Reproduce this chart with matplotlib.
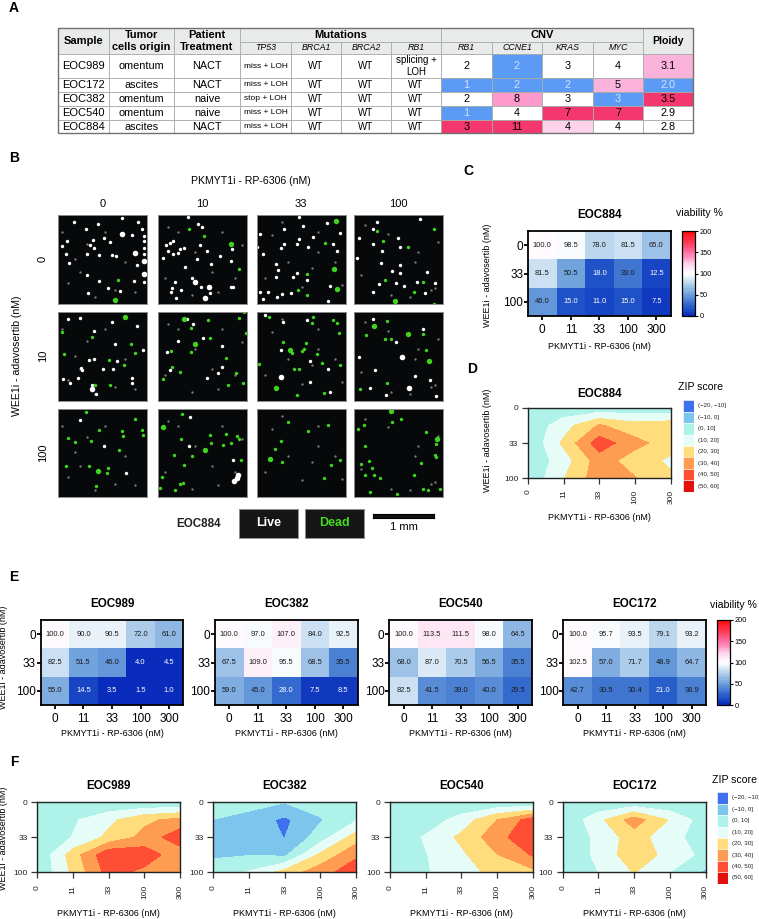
import matplotlib
matplotlib.use("Agg")
import matplotlib.pyplot as plt
import numpy as np
from matplotlib.colors import LinearSegmentedColormap, Normalize
from matplotlib.patches import Rectangle

W, H = 759, 919
plt.rcParams["font.family"] = ["Liberation Sans", "DejaVu Sans"]

# panel A table
SAMPLES = ["EOC989", "EOC172", "EOC382", "EOC540", "EOC884"]
ORIGIN = ["omentum", "ascites", "omentum", "omentum", "ascites"]
TREATMENT = ["NACT", "NACT", "naive", "naive", "NACT"]
TP53 = ["miss + LOH", "miss + LOH", "stop + LOH", "miss + LOH", "miss + LOH"]
BRCA1 = ["WT"] * 5
BRCA2 = ["WT"] * 5
RB1_MUT = ["splicing +\nLOH", "WT", "WT", "WT", "WT"]
CNV_RB1 = ["2", "1", "2", "1", "3"]
CNV_CCNE1 = ["2", "2", "8", "4", "11"]
CNV_KRAS = ["3", "2", "3", "7", "4"]
CNV_MYC = ["4", "5", "3", "7", "4"]
PLOIDY = ["3.1", "2.0", "3.5", "2.9", "2.8"]
GENES_MUT = ["TP53", "BRCA1", "BRCA2", "RB1"]
GENES_CNV = ["RB1", "CCNE1", "KRAS", "MYC"]

BLUE = "#5b9bf6"
PINK = "#fbb3dc"
MID = "#fd9acb"
PALE = "#fdd2ea"
HOT = "#f5376f"
NONE = "#ffffff"
CNV_RB1_COL = [NONE, BLUE, NONE, BLUE, HOT]
CNV_CCNE1_COL = [BLUE, BLUE, MID, NONE, HOT]
CNV_KRAS_COL = [NONE, BLUE, NONE, HOT, PALE]
CNV_MYC_COL = [NONE, PINK, BLUE, HOT, NONE]
PLOIDY_COL = [PINK, BLUE, HOT, NONE, NONE]

TABLE_X = [58, 109, 174, 240, 291, 341, 391, 441, 492, 542, 593, 643, 693]
TABLE_Y = [28, 42, 54, 78, 92, 106, 120, 133]

# panel B spots, read in pixels of a 3x crop of each row of images
IMG_LEFT = [9, 309, 605, 898]
IMG_COLS = ["0", "10", "33", "100"]
IMG_ROWS = ["0", "10", "100"]
WHITE_ROW0 = [(92, 52), (250, 30), (200, 18), (130, 35), (56, 30), (260, 50), (232, 70), (268, 72), (147, 78), (165, 90),
              (37, 88), (20, 102), (105, 100), (115, 85), (117, 108), (268, 88), (268, 107), (268, 125), (34, 127),
              (97, 125), (172, 129), (184, 131), (133, 130), (42, 152), (246, 160), (95, 190), (132, 208), (236, 208),
              (100, 245), (196, 238), (158, 228), (268, 212),
              (400, 14), (428, 35), (440, 45), (333, 98), (345, 92), (355, 87), (340, 118), (355, 125), (368, 124),
              (375, 112), (388, 108), (435, 100), (457, 118), (495, 133), (427, 142), (467, 156), (530, 110), (528, 147),
              (390, 167), (412, 198), (360, 212), (352, 228), (348, 240), (378, 235), (438, 225), (465, 243), (362, 258),
              (528, 226), (535, 225), (325, 138),
              (733, 14), (687, 50), (615, 67), (607, 105), (687, 96), (677, 108), (727, 97), (733, 80), (745, 42),
              (815, 32), (856, 63), (775, 75), (760, 105), (835, 97), (845, 118), (662, 155), (668, 175), (625, 125),
              (663, 197), (715, 197), (726, 183), (756, 205), (825, 222), (615, 240), (640, 240), (625, 262), (665, 255),
              (682, 248), (708, 245), (820, 268),
              (1097, 22), (967, 30), (955, 50), (913, 78), (955, 97), (1030, 78), (1037, 105), (983, 118), (907, 138),
              (978, 153), (1037, 160), (1013, 178), (1037, 184), (1118, 180), (1025, 215), (1048, 222), (1088, 210),
              (972, 218), (1140, 215), (955, 240), (1110, 245)]
WHITE_BIG_ROW0 = [(200, 67), (240, 123), (266, 147), (266, 187), (420, 210), (461, 226), (450, 260)]
GREEN_ROW0 = [(190, 205), (403, 52), (447, 72), (553, 173), (810, 93), (757, 187), (728, 236), (757, 250), (1137, 52),
              (967, 58), (985, 88), (1059, 104), (991, 205), (1105, 212), (1077, 240), (1138, 277)]
GREEN_BIG_ROW0 = [(180, 265), (527, 97), (844, 28), (838, 171), (845, 232), (1020, 267)]
WHITE_ROW1 = [(38, 30), (75, 28), (172, 40), (245, 52), (117, 66), (180, 105), (265, 123), (118, 150), (103, 154), (145, 180),
              (175, 182), (185, 158), (78, 178), (82, 185), (25, 212), (46, 222), (70, 208), (232, 208), (232, 222),
              (110, 230), (122, 255),
              (445, 88), (370, 95), (335, 128), (500, 112), (500, 175), (490, 193), (345, 183), (455, 208), (415, 45),
              (395, 30),
              (630, 18), (684, 40), (755, 33), (677, 122), (765, 155), (765, 220), (825, 250), (820, 180),
              (955, 30), (913, 145), (1025, 98), (960, 184), (1125, 215), (1082, 203), (945, 238), (1145, 262), (995, 258),
              (1105, 60)]
WHITE_BIG_ROW1 = [(110, 240), (677, 205), (1042, 145), (1063, 237)]
GREEN_ROW1 = [(20, 70), (110, 83), (228, 106), (240, 132), (28, 135), (163, 153), (207, 170), (120, 230), (166, 228),
              (409, 58), (460, 34), (553, 27), (567, 10), (573, 72), (466, 86), (408, 130), (347, 127), (512, 147),
              (352, 174), (376, 189), (543, 193), (324, 211), (518, 230), (565, 222),
              (643, 25), (775, 24), (771, 42), (835, 33), (846, 43), (851, 73), (683, 100), (753, 101), (711, 133),
              (740, 127), (746, 120), (786, 135), (800, 164), (856, 168), (717, 180), (733, 180), (612, 165), (725, 259),
              (806, 254),
              (997, 36), (935, 78), (991, 90), (1010, 90), (1105, 75), (1115, 122), (915, 242), (997, 222)]
GREEN_BIG_ROW1 = [(210, 25), (386, 30), (421, 106), (706, 123), (664, 239), (958, 50), (1059, 76), (1124, 157)]
WHITE_ROW2 = [(75, 44), (146, 122), (212, 202), (406, 35), (402, 122), (533, 163)]
WHITE_BIG_ROW2 = [(550, 210), (536, 226), (545, 218)]
GREEN_ROW2 = [(93, 18), (241, 40), (132, 74), (200, 75), (262, 72), (204, 90), (264, 87), (38, 97), (61, 110), (109, 107),
              (193, 132), (33, 180), (101, 180), (160, 186), (157, 203), (124, 241),
              (381, 24), (378, 101), (465, 88), (514, 85), (545, 91), (551, 101), (467, 112), (503, 118), (528, 113),
              (356, 147), (410, 152), (386, 178), (320, 216), (316, 249), (361, 253), (374, 237), (383, 232), (557, 163),
              (699, 50), (760, 75), (820, 58), (678, 107), (661, 131), (681, 170), (829, 177), (854, 162), (806, 219),
              (1012, 48), (1039, 40), (910, 71), (927, 58), (1113, 80), (1143, 115), (931, 122), (1140, 147), (1145, 155),
              (918, 176), (944, 167), (952, 189), (1100, 172), (931, 209), (958, 209), (976, 219), (1077, 208), (946, 261),
              (1027, 267), (1105, 251), (1120, 253), (1155, 250)]
GREEN_BIG_ROW2 = [(128, 196), (323, 65), (450, 132), (646, 160), (1010, 15), (1148, 101)]
DUST = [(20, 60), (60, 140), (150, 60), (75, 180), (210, 150), (120, 255), (40, 215), (240, 240), (180, 235), (95, 95),
        (340, 45), (420, 120), (500, 60), (540, 200), (330, 200), (410, 250), (490, 240), (560, 100), (370, 60), (470, 180),
        (650, 70), (700, 150), (790, 60), (840, 150), (630, 200), (740, 225), (790, 120), (860, 220), (680, 30), (770, 170),
        (930, 40), (1000, 65), (1090, 120), (1140, 230), (920, 190), (1010, 250), (1080, 150), (1150, 90), (1130, 235),
        (1065, 255)]

# viability % rows: WEE1i 0, 33, 100; columns: PKMYT1i 0, 11, 33, 100, 300
VIA_884 = [[100.0, 98.5, 78.0, 81.5, 65.0], [81.5, 50.5, 18.0, 33.0, 12.5], [46.0, 15.0, 11.0, 15.0, 7.5]]
VIA_989 = [[100.0, 90.0, 90.5, 72.0, 61.0], [82.5, 51.5, 46.0, 4.0, 4.5], [55.0, 14.5, 3.5, 1.5, 1.0]]
VIA_382 = [[100.0, 97.0, 107.0, 84.0, 92.5], [67.5, 109.0, 95.5, 68.5, 35.5], [59.0, 45.0, 28.0, 7.5, 8.5]]
VIA_540 = [[100.0, 113.5, 111.5, 98.0, 64.5], [68.0, 87.0, 70.5, 56.5, 35.5], [82.5, 41.5, 39.0, 40.0, 29.5]]
VIA_172 = [[100.0, 95.7, 93.5, 79.1, 93.2], [102.5, 57.0, 71.7, 48.9, 64.7], [42.7, 30.5, 30.4, 21.0, 38.9]]
DOSE_X = ["0", "11", "33", "100", "300"]
DOSE_Y = ["0", "33", "100"]

# ZIP scores read back from the contour outlines, five rows by five columns
ZIP_884 = [[4, 3, 2.5, 2.5, 2.4],
           [2.5, 15.5, 31, 24, 26],
           [1, 22, 45.5, 33, 25],
           [2, 15, 35, 25, 18],
           [2, 19.5, 36, 30.5, 22]]
ZIP_989 = [[1, 1, 1, 0.5, 0.5],
           [1, 8.5, 17.5, 28, 33],
           [1, 10.5, 22.5, 33, 47],
           [1, 25, 48, 46, 33],
           [1, 22.2, 44, 37.2, 32]]
ZIP_382 = [[6, 5, 0.3, 5, 6],
           [-0.2, -5, -12, -1, 9],
           [-3, -6, -10.2, 5, 25],
           [-0.3, -0.5, -2, 22, 38],
           [1, 11, 24, 36, 46]]
ZIP_540 = [[2, 2, 1.5, 1, 0.2],
           [2, 4, 14, 30, 45],
           [1, 11.2, 22.3, 36, 49],
           [1, 9.5, 18, 29.5, 41],
           [1, 9, 16, 23, 27]]
ZIP_172 = [[1, 1, 2, 1, 1],
           [0.5, 17, 35, 19, 4.4],
           [0.5, 12.7, 25, 13.3, 5],
           [0.5, 12.7, 26.4, 16.4, 7],
           [0.5, 10, 20.5, 10, -2]]
ZIP_LEVELS = [-20, -10, 0, 10, 20, 30, 40, 50, 60]
ZIP_COLORS = ["#3f70ee", "#7cc6ee", "#aef2ea", "#e6fcf7", "#ffdd7c", "#fe9d52", "#fe4f34", "#e2100a"]
ZIP_LABELS = ["(\u221220, \u221210]", "(\u221210, 0]", "(0, 10]", "(10, 20]", "(20, 30]", "(30, 40]", "(40, 50]", "(50, 60]"]

XLABEL = "PKMYT1i - RP-6306 (nM)"
YLABEL = "WEE1i - adavosertib (nM)"

VIA_CMAP = LinearSegmentedColormap.from_list(
    "via",
    [(0.0, "#0a2cbc"), (0.09, "#2258c8"), (0.25, "#6da0dc"), (0.40, "#c5dcf0"), (0.50, "#ffffff"),
     (0.62, "#fdd0ea"), (0.75, "#ff6fa8"), (1.0, "#ff0a0a")], N=40)
VIA_NORM = Normalize(0, 200)


def px_ax(fig, x0, y0, x1, y1):
    return fig.add_axes([x0 / W, 1 - y1 / H, (x1 - x0) / W, (y1 - y0) / H])


def put(fig, x, y, s, size, **kw):
    kw.setdefault("ha", "center")
    kw.setdefault("va", "center")
    fig.text(x / W, 1 - y / H, s, fontsize=size, **kw)


def draw_table(fig):
    ax = fig.add_axes([0, 0, 1, 1])
    ax.set_xlim(0, W)
    ax.set_ylim(H, 0)
    ax.axis("off")
    xs, ys = TABLE_X, TABLE_Y

    def cell(c0, c1, r0, r1, color="white"):
        ax.add_patch(Rectangle((xs[c0], ys[r0]), xs[c1] - xs[c0], ys[r1] - ys[r0],
                               facecolor=color, edgecolor="#a8aba9", linewidth=0.6))

    def label(c0, c1, r0, r1, s, size, **kw):
        ax.text((xs[c0] + xs[c1]) / 2, (ys[r0] + ys[r1]) / 2, s, ha="center", va="center", fontsize=size, **kw)

    grey = "#e9ebea"
    cell(0, 1, 0, 2, grey)
    label(0, 1, 0, 2, "Sample", 8, fontweight="bold")
    cell(1, 2, 0, 2, grey)
    label(1, 2, 0, 2, "Tumor\ncells origin", 7.9, fontweight="bold", linespacing=1.35)
    cell(2, 3, 0, 2, grey)
    label(2, 3, 0, 2, "Patient\nTreatment", 8, fontweight="bold", linespacing=1.35)
    cell(3, 7, 0, 1, grey)
    label(3, 7, 0, 1, "Mutations", 8, fontweight="bold")
    cell(7, 11, 0, 1, grey)
    label(7, 11, 0, 1, "CNV", 8, fontweight="bold")
    cell(11, 12, 0, 2, grey)
    label(11, 12, 0, 2, "Ploidy", 7.6, fontweight="bold")
    for i, g in enumerate(GENES_MUT + GENES_CNV):
        cell(3 + i, 4 + i, 1, 2, grey)
        label(3 + i, 4 + i, 1, 2, g, 6.3, style="italic")

    text_cols = [SAMPLES, ORIGIN, TREATMENT, TP53, BRCA1, BRCA2, RB1_MUT]
    sizes = [8, 7.8, 7.8, 6, 7, 7, 7]
    for r in range(5):
        for c, col in enumerate(text_cols):
            cell(c, c + 1, r + 2, r + 3)
            label(c, c + 1, r + 2, r + 3, col[r], sizes[c], linespacing=1.25)
    cnv = [CNV_RB1, CNV_CCNE1, CNV_KRAS, CNV_MYC, PLOIDY]
    cols = [CNV_RB1_COL, CNV_CCNE1_COL, CNV_KRAS_COL, CNV_MYC_COL, PLOIDY_COL]
    for c, (vals, fills) in enumerate(zip(cnv, cols)):
        for r in range(5):
            cell(c + 7, c + 8, r + 2, r + 3, fills[r])
            tc = "#cfe2ff" if fills[r] == BLUE else "black"
            label(c + 7, c + 8, r + 2, r + 3, vals[r], 7.8, color=tc)
    ax.add_patch(Rectangle((xs[0], ys[0]), xs[-1] - xs[0], ys[-1] - ys[0], fill=False, edgecolor="#6f7271", linewidth=1.0))
    return ax


def draw_images(fig):
    tops = [215, 312, 408.7]
    lefts = [58, 158, 256.7, 354]
    whites = [WHITE_ROW0, WHITE_ROW1, WHITE_ROW2]
    white_big = [WHITE_BIG_ROW0, WHITE_BIG_ROW1, WHITE_BIG_ROW2]
    greens = [GREEN_ROW0, GREEN_ROW1, GREEN_ROW2]
    green_big = [GREEN_BIG_ROW0, GREEN_BIG_ROW1, GREEN_BIG_ROW2]
    dx, dy = np.array(DUST).T
    for r, top in enumerate(tops):
        for c, left in enumerate(lefts):
            ax = px_ax(fig, left, top, left + 89, top + 88.7)
            ax.set_facecolor("#07080a")
            ax.set_xlim(IMG_LEFT[c], IMG_LEFT[c] + 267)
            ax.set_ylim(276, 9)
            ax.scatter(dx, dy, s=3, color="#777777", linewidths=0)
            ax.scatter(*np.array(whites[r]).T, s=6, color="white", linewidths=0)
            ax.scatter(*np.array(white_big[r]).T, s=16, color="white", linewidths=0)
            ax.scatter(*np.array(greens[r]).T, s=6, color="#3fd41e", linewidths=0)
            ax.scatter(*np.array(green_big[r]).T, s=15, color="#3fd41e", linewidths=0)
            ax.set_xticks([])
            ax.set_yticks([])
            for s in ax.spines.values():
                s.set_edgecolor("#8c8c8c")
                s.set_linewidth(0.7)
    for c, left in enumerate(lefts):
        put(fig, left + 44.5, 204, IMG_COLS[c], 8)
    for r, top in enumerate(tops):
        put(fig, 43, top + 44, IMG_ROWS[r], 8, rotation=90)
    put(fig, 251, 180.5, XLABEL, 7.6)
    put(fig, 17, 356, YLABEL, 7.6, rotation=90)
    put(fig, 199, 524, "EOC884", 8.4, fontweight="bold", color="#222222")

    for x0, s, col in [(239, "Live", "white"), (305, "Dead", "#46d81f")]:
        ax = px_ax(fig, x0, 509, x0 + 59, 538)
        ax.set_facecolor("#161616")
        ax.set_xticks([])
        ax.set_yticks([])
        for sp in ax.spines.values():
            sp.set_edgecolor("#909090")
            sp.set_linewidth(0.7)
        ax.text(0.5, 0.52, s, color=col, fontsize=9, fontweight="bold", ha="center", va="center", transform=ax.transAxes)
    bar = px_ax(fig, 373, 514, 434, 518)
    bar.set_facecolor("#111111")
    bar.set_xticks([])
    bar.set_yticks([])
    put(fig, 404, 527.5, "1 mm", 8)


def draw_heat(fig, x0, y0, x1, y1, values, title, xlab_gap=28.5):
    ax = px_ax(fig, x0, y0, x1, y1)
    vals = np.array(values)
    ax.pcolormesh(np.arange(6), np.arange(4), vals, cmap=VIA_CMAP, norm=VIA_NORM)
    ax.set_ylim(3, 0)
    for r in range(3):
        for c in range(5):
            col = "white" if vals[r, c] <= 28 else "#1a1a1a"
            ax.text(c + 0.5, r + 0.5, f"{vals[r, c]:.1f}", ha="center", va="center", fontsize=5.4, color=col)
    ax.set_xticks(np.arange(5) + 0.5, DOSE_X, fontsize=8.5)
    ax.set_yticks(np.arange(3) + 0.5, DOSE_Y, fontsize=8.5)
    ax.tick_params(axis="x", width=1.3, length=3, pad=2.5, direction="out")
    ax.tick_params(axis="y", width=1.3, length=3, pad=0.5, direction="out")
    for s in ax.spines.values():
        s.set_linewidth(1.3)
    put(fig, (x0 + x1) / 2, y0 - 16, title, 8.4, fontweight="bold")
    put(fig, (x0 + x1) / 2, y1 + xlab_gap, XLABEL, 6.5)
    return ax


def draw_cbar(fig, x0, y0, x1, y1, label_x, label_y):
    cax = px_ax(fig, x0, y0, x1, y1)
    sm = plt.cm.ScalarMappable(norm=VIA_NORM, cmap=VIA_CMAP)
    cb = fig.colorbar(sm, cax=cax, ticks=[0, 50, 100, 150, 200])
    cb.ax.tick_params(labelsize=5.3, length=2, width=0.8, pad=1.5)
    cb.outline.set_linewidth(0.9)
    put(fig, label_x, label_y, "viability %", 7.6)


def draw_zip(fig, x0, y0, x1, y1, values, title, title_gap, xlab_gap, xpad):
    ax = px_ax(fig, x0, y0, x1, y1)
    ax.contourf(np.arange(5), np.arange(5), np.array(values), levels=ZIP_LEVELS, colors=ZIP_COLORS)
    ax.set_ylim(4, 0)
    ax.set_xticks(np.arange(5), DOSE_X, fontsize=6, rotation=90)
    ax.set_yticks([0, 2, 4], DOSE_Y, fontsize=6)
    ax.tick_params(axis="x", width=0.9, length=4, pad=xpad, color="#333333", labelcolor="#222222")
    ax.tick_params(axis="y", width=0.9, length=4, pad=3, color="#333333", labelcolor="#222222")
    for s in ax.spines.values():
        s.set_linewidth(1.0)
        s.set_edgecolor("#222222")
    put(fig, (x0 + x1) / 2, y0 - title_gap, title, 8.4, fontweight="bold")
    put(fig, (x0 + x1) / 2, y1 + xlab_gap, XLABEL, 6.5)
    return ax


def draw_zip_legend(fig, x0, x1, y0, step, title_x, title_y, text_x):
    ax = px_ax(fig, x0, y0, x1, y0 + step * 8)
    ax.set_xlim(0, 1)
    ax.set_ylim(8, 0)
    ax.axis("off")
    ax.bar([0.5] * 8, [1] * 8, width=1, bottom=np.arange(8), color=ZIP_COLORS, edgecolor="white", linewidth=0.4)
    for i, s in enumerate(ZIP_LABELS):
        put(fig, text_x, y0 + step * (i + 0.5), s, 4.4, ha="left", color="#222222")
    put(fig, title_x, title_y, "ZIP score", 7.6)


def main():
    fig = plt.figure(figsize=(W / 100, H / 100), dpi=100)

    draw_table(fig)
    draw_images(fig)

    draw_heat(fig, 528, 231, 670.7, 316, VIA_884, "EOC884", xlab_gap=30.5)
    draw_cbar(fig, 682, 231, 694.7, 316, 699, 213)
    put(fig, 487, 275, YLABEL, 6.5, rotation=90)

    draw_zip(fig, 528, 407.7, 670.7, 478.3, ZIP_884, "EOC884", 13.7, 39.5, 4)
    draw_zip_legend(fig, 683, 694, 400, 11.5, 700.7, 387, 698)
    put(fig, 487, 440, YLABEL, 6.5, rotation=90)

    heat_left = [40.7, 215, 389.3, 563.3]
    heat_vals = [VIA_989, VIA_382, VIA_540, VIA_172]
    names = ["EOC989", "EOC382", "EOC540", "EOC172"]
    for x0, vals, name in zip(heat_left, heat_vals, names):
        draw_heat(fig, x0, 620, x0 + 142.6, 705, vals, name)
    draw_cbar(fig, 717.3, 620, 730, 705, 733, 605)
    put(fig, 4, 657, YLABEL, 6.5, rotation=90)

    zip_left = [37.3, 213.3, 390, 562.7]
    zip_vals = [ZIP_989, ZIP_382, ZIP_540, ZIP_172]
    for x0, vals, name in zip(zip_left, zip_vals, names):
        draw_zip(fig, x0, 802.3, x0 + 142.8, 872.3, vals, name, 16.6, 41.7, 5.3)
    draw_zip_legend(fig, 717.3, 728, 792.3, 11.4, 735, 779.7, 732)
    put(fig, 4, 838, YLABEL, 6.5, rotation=90)

    for s, x, y in [("A", 13.5, 8), ("B", 14, 158), ("C", 468.5, 171), ("D", 472, 369), ("E", 14, 577), ("F", 14, 762)]:
        put(fig, x, y, s, 10, fontweight="bold")

    fig.savefig("out.png", dpi=100)


if __name__ == "__main__":
    main()
